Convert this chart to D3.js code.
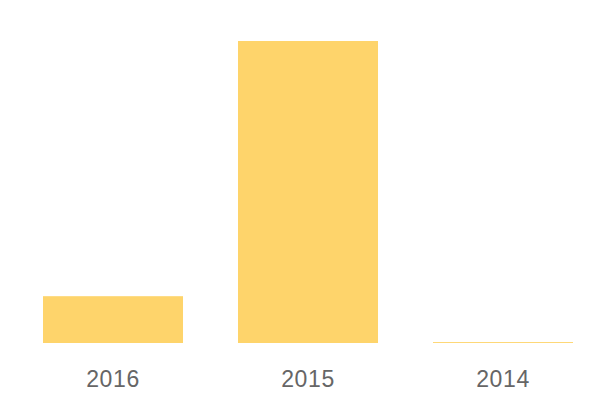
<!DOCTYPE html>
<html>
<head>
<meta charset="utf-8">
<script src="https://cdn.jsdelivr.net/npm/d3@7"></script>
<style>
  body { margin: 0; background: #fff; }
  .axis text { font-family: "Liberation Sans", Arial, sans-serif; font-size: 23px; fill: #666; letter-spacing: 0.6px; }
</style>
</head>
<body>
<div id="chart"></div>
<script>
var years = ["2016", "2015", "2014"];
var values = [155, 1000, 3];

var width = 600,
    height = 400,
    baseY = 343,
    topY = 41;

var svg = d3.select("#chart").append("svg")
    .attr("width", width)
    .attr("height", height);

var x = d3.scaleBand()
    .domain(years)
    .range([43, 573])
    .paddingInner(0.282)
    .paddingOuter(0);

var y = d3.scaleLinear()
    .domain([0, d3.max(values)])
    .range([baseY, topY]);

svg.selectAll(".bar")
    .data(years)
  .enter().append("rect")
    .attr("class", "bar")
    .attr("x", function(d) { return x(d); })
    .attr("width", x.bandwidth())
    .attr("y", function(d, i) { return y(values[i]); })
    .attr("height", function(d, i) { return baseY - y(values[i]); })
    .style("fill", "#fed46b");

var axis = svg.append("g")
    .attr("class", "axis")
    .attr("transform", "translate(0," + baseY + ")")
    .call(d3.axisBottom(x).tickSize(0));

axis.select(".domain").remove();
axis.selectAll("text").attr("dy", null).attr("y", 44);
axis.attr("font-size", null).attr("font-family", null);
</script>
</body>
</html>
